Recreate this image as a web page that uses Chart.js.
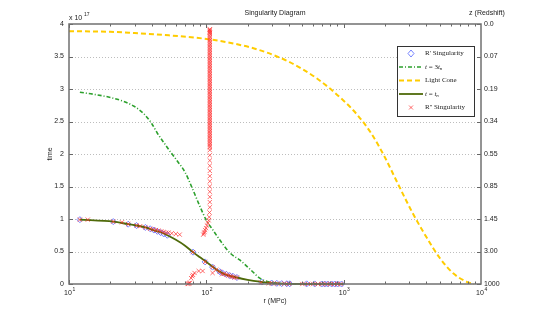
<!DOCTYPE html>
<html>
<head>
<meta charset="utf-8">
<style>
  html, body { margin: 0; padding: 0; background: #fff; }
  #wrap { width: 533px; height: 320px; }
</style>
</head>
<body>
<div id="wrap"><canvas id="singularityChart" width="533" height="320"></canvas></div>
<script src="https://cdn.jsdelivr.net/npm/chart.js"></script>
<script>
// r in MPc, t in units of 1e17
const rTn = [12, 21, 27, 31, 36, 41, 46, 52, 60, 70, 80, 90, 100, 112, 125, 140, 166, 200, 245, 300, 400, 600, 1000];
const tTn = [0.99, 0.96, 0.92, 0.90, 0.87, 0.83, 0.80, 0.75, 0.68, 0.59, 0.49, 0.41, 0.34, 0.26, 0.19, 0.14, 0.10, 0.065, 0.035, 0.012, 0.003, 0, 0];

const r3Tn = [12, 15, 20, 25, 30, 35, 40, 44, 50, 54, 62, 70, 78, 90, 100, 110, 125, 150, 175, 210, 245, 290, 350, 450];
const t3Tn = [2.95, 2.92, 2.87, 2.81, 2.73, 2.62, 2.47, 2.32, 2.15, 2.05, 1.88, 1.72, 1.50, 1.19, 0.98, 0.85, 0.68, 0.47, 0.37, 0.22, 0.09, 0.03, 0.005, 0];

const rCone = [10, 20, 30, 50, 100, 158, 251, 398, 631, 1000, 1259, 1585, 1995, 2512, 3162, 3981, 5012, 6310, 7943, 8900];
const tCone = [3.89, 3.88, 3.86, 3.83, 3.77, 3.70, 3.59, 3.42, 3.17, 2.82, 2.60, 2.32, 1.95, 1.52, 1.10, 0.73, 0.40, 0.16, 0.03, 0];

const rPrime = [12, 21, 27, 31, 36, 39, 41.5, 44, 46.5, 49, 52,
                80, 98, 111, 125, 131, 140, 148, 156, 167,
                253, 299, 326, 354, 385, 405, 538, 615, 692, 728, 765, 818, 861, 904, 966];
const tPrime = [0.99, 0.96, 0.92, 0.90, 0.87, 0.85, 0.83, 0.81, 0.79, 0.77, 0.75,
                0.49, 0.34, 0.26, 0.19, 0.17, 0.15, 0.13, 0.12, 0.10,
                0.03, 0.015, 0.01, 0.006, 0.004, 0.003, 0.002, 0.001, 0, 0, 0, 0, 0, 0, 0];

// R'' singularity, in groups
const rDdCurve = [12, 13.7, 21, 24.3, 27, 31, 33, 36, 39, 41, 43, 45, 47, 49, 51, 53, 56, 60, 64];
const tDdCurve = [0.99, 0.99, 0.96, 0.95, 0.92, 0.90, 0.89, 0.87, 0.85, 0.84, 0.83, 0.82, 0.81, 0.80, 0.79, 0.79, 0.78, 0.77, 0.76];
const rDdLow = [73, 74, 75, 76, 77.5, 79, 80, 82, 88, 94, 80, 98, 111, 111, 118, 125, 130, 135, 140, 145, 150, 155, 160, 167];
const tDdLow = [0, 0.005, 0.01, 0.02, 0.09, 0.12, 0.14, 0.17, 0.20, 0.20, 0.49, 0.34, 0.26, 0.17, 0.22, 0.19, 0.15, 0.16, 0.14, 0.13, 0.12, 0.11, 0.10, 0.10];
const rDdFlat = [250, 285, 300, 330, 370, 400, 500, 550, 600, 650, 700, 750, 800, 850, 900, 950];
const tDdFlat = [0.02, 0.01, 0.01, 0.005, 0.005, 0.003, 0, 0, 0, 0, 0, 0, 0, 0, 0, 0];
const rDdBend = [95, 96, 97, 98, 99.5, 101, 102.5, 104, 105, 105.5, 106, 106, 106, 106, 106, 106, 106, 106, 106, 106, 106, 106];
const tDdBend = [0.76, 0.78, 0.80, 0.83, 0.86, 0.90, 0.94, 0.98, 1.03, 1.10, 1.18, 1.26, 1.34, 1.42, 1.50, 1.58, 1.66, 1.74, 1.82, 1.90, 1.98, 2.06];
const tDdColumn = [2.100, 2.125, 2.150, 2.175, 2.200, 2.225, 2.250, 2.275, 2.300, 2.325, 2.350, 2.375, 2.400, 2.425, 2.450, 2.475,
                   2.500, 2.525, 2.550, 2.575, 2.600, 2.625, 2.650, 2.675, 2.700, 2.725, 2.750, 2.775, 2.800, 2.825, 2.850, 2.875,
                   2.900, 2.925, 2.950, 2.975, 3.000, 3.025, 3.050, 3.075, 3.100, 3.125, 3.150, 3.175, 3.200, 3.225, 3.250, 3.275,
                   3.300, 3.325, 3.350, 3.375, 3.400, 3.425, 3.450, 3.475, 3.500, 3.525, 3.550, 3.575, 3.600, 3.625, 3.650, 3.675,
                   3.700, 3.725, 3.750, 3.775, 3.800, 3.825, 3.850, 3.865, 3.880, 3.895, 3.910, 3.920];
const rDdColumn = 106;

const yTicks = [0, 0.5, 1, 1.5, 2, 2.5, 3, 3.5, 4];
const zLabels = ['1000', '3.00', '1.45', '0.85', '0.55', '0.34', '0.19', '0.07', '0.0'];
const xDecades = [1, 2, 3, 4];

function pts(xs, ys) {
    return xs.map((x, i) => ({x: x, y: ys[i]}));
}

const rppPoints = pts(rDdCurve, tDdCurve)
    .concat(pts(rDdLow, tDdLow))
    .concat(pts(rDdFlat, tDdFlat))
    .concat(pts(rDdBend, tDdBend))
    .concat(tDdColumn.map(t => ({x: rDdColumn, y: t})));

const SANS = '"Liberation Sans", Arial, sans-serif';
const SERIF = '"Liberation Serif", "Times New Roman", serif';

const colPrime = 'rgba(95,110,255,0.85)';
const col3Tn = '#2ca02c';
const colCone = '#ffcc00';
const colTn = '#4f6a0a';
const colDd = 'rgba(255,45,45,0.7)';

const gridPlugin = {
    id: 'dottedGrid',
    beforeDatasetsDraw(chart) {
        const ctx = chart.ctx;
        const a = chart.chartArea;
        const ys = chart.scales.y;
        ctx.save();
        ctx.strokeStyle = '#bdbdbd';
        ctx.lineWidth = 1;
        ctx.setLineDash([1, 2]);
        ctx.beginPath();
        yTicks.forEach(v => {
            if (v === 0 || v === 4) return;
            const py = Math.round(ys.getPixelForValue(v)) + 0.5;
            ctx.moveTo(a.left, py); ctx.lineTo(a.right, py);
        });
        ctx.stroke();
        ctx.restore();
    }
};

const framePlugin = {
    id: 'frame',
    afterDraw(chart) {
        const ctx = chart.ctx;
        const a = chart.chartArea;
        const xs = chart.scales.x;
        const ys = chart.scales.y;
        ctx.save();

        // inward tick marks
        ctx.strokeStyle = '#666';
        ctx.lineWidth = 1;
        ctx.beginPath();
        [10, 100, 1000].forEach(dec => {
            for (let m = 1; m <= 9; m++) {
                const px = Math.round(xs.getPixelForValue(m * dec)) + 0.5;
                const len = m === 1 ? 4 : 2.5;
                ctx.moveTo(px, a.bottom); ctx.lineTo(px, a.bottom - len);
                ctx.moveTo(px, a.top); ctx.lineTo(px, a.top + len);
            }
        });
        yTicks.forEach(v => {
            const py = Math.round(ys.getPixelForValue(v)) + 0.5;
            ctx.moveTo(a.left, py); ctx.lineTo(a.left + 4, py);
            ctx.moveTo(a.right, py); ctx.lineTo(a.right - 4, py);
        });
        ctx.stroke();

        // box
        ctx.strokeStyle = '#707070';
        ctx.lineWidth = 1.5;
        ctx.strokeRect(a.left, a.top, a.right - a.left, a.bottom - a.top);

        // texts
        ctx.fillStyle = '#222';
        ctx.textBaseline = 'middle';
        ctx.font = '7px ' + SANS;
        ctx.textAlign = 'center';
        ctx.fillText('Singularity Diagram', (a.left + a.right) / 2, 13);
        ctx.fillText('z (Redshift)', 487, 13);
        ctx.fillText('r (MPc)', (a.left + a.right) / 2, 301);
        ctx.textAlign = 'left';
        ctx.fillText('x 10', a.left, 18);
        ctx.font = '5px ' + SANS;
        ctx.fillText('17', a.left + 15, 14.5);

        // x tick labels 10^n
        xDecades.forEach(n => {
            const px = xs.getPixelForValue(Math.pow(10, n));
            ctx.font = '7px ' + SANS;
            ctx.textAlign = 'left';
            const w = ctx.measureText('10').width;
            ctx.fillText('10', px - w / 2 - 1, 293);
            ctx.font = '5px ' + SANS;
            ctx.fillText(String(n), px + w / 2 - 0.5, 290);
        });

        ctx.font = '7px ' + SANS;
        ctx.save();
        ctx.translate(50, (a.top + a.bottom) / 2);
        ctx.rotate(-Math.PI / 2);
        ctx.textAlign = 'center';
        ctx.fillText('time', 0, 0);
        ctx.restore();

        // legend
        const lx = 397, ly = 46, lw = 77, lh = 70;
        ctx.fillStyle = '#fff';
        ctx.fillRect(lx, ly, lw, lh);
        ctx.strokeStyle = '#333';
        ctx.lineWidth = 1;
        ctx.strokeRect(lx + 0.5, ly + 0.5, lw, lh);
        const rows = [53.5, 67, 80.5, 94, 107.5];
        const x0 = 399, x1 = 423, tx = 425;
        // R' marker
        ctx.strokeStyle = colPrime;
        ctx.beginPath();
        ctx.moveTo(411, rows[0] - 3.5); ctx.lineTo(414, rows[0]);
        ctx.lineTo(411, rows[0] + 3.5); ctx.lineTo(408, rows[0]); ctx.closePath();
        ctx.stroke();
        // 3t_n
        ctx.strokeStyle = col3Tn; ctx.lineWidth = 1.6;
        ctx.setLineDash([4, 2, 1, 2]);
        ctx.beginPath(); ctx.moveTo(x0, rows[1]); ctx.lineTo(x1, rows[1]); ctx.stroke();
        // light cone
        ctx.strokeStyle = colCone; ctx.lineWidth = 2;
        ctx.setLineDash([5, 3]);
        ctx.beginPath(); ctx.moveTo(x0, rows[2]); ctx.lineTo(x1, rows[2]); ctx.stroke();
        // t_n
        ctx.setLineDash([]);
        ctx.strokeStyle = colTn; ctx.lineWidth = 1.8;
        ctx.beginPath(); ctx.moveTo(x0, rows[3]); ctx.lineTo(x1, rows[3]); ctx.stroke();
        // R'' marker
        ctx.strokeStyle = colDd; ctx.lineWidth = 1;
        ctx.beginPath();
        ctx.moveTo(409, rows[4] - 2); ctx.lineTo(413, rows[4] + 2);
        ctx.moveTo(413, rows[4] - 2); ctx.lineTo(409, rows[4] + 2);
        ctx.stroke();

        ctx.fillStyle = '#222';
        ctx.textAlign = 'left';
        ctx.font = '7px ' + SERIF;
        ctx.fillText("R' Singularity", tx, rows[0]);
        ctx.fillText('Light Cone', tx, rows[2]);
        ctx.fillText("R'' Singularity", tx, rows[4]);
        // t = 3t_n  and  t = t_n
        const italic = 'italic 7px ' + SERIF;
        const plain = '7px ' + SERIF;
        const sub = 'italic 5px ' + SERIF;
        function eqn(y, coef) {
            let x = tx;
            ctx.font = italic; ctx.fillText('t', x, y); x += ctx.measureText('t ').width;
            ctx.font = plain; ctx.fillText('= ' + coef, x, y); x += ctx.measureText('= ' + coef).width;
            ctx.font = italic; ctx.fillText('t', x, y); x += ctx.measureText('t').width;
            ctx.font = sub; ctx.fillText('n', x, y + 1.5);
        }
        eqn(rows[1], '3');
        eqn(rows[3], '');
        ctx.restore();
    }
};

new Chart(document.getElementById('singularityChart').getContext('2d'), {
    type: 'scatter',
    data: {
        datasets: [
            {
                label: "R'' Singularity",
                data: rppPoints,
                pointStyle: 'crossRot',
                pointRadius: 3,
                borderColor: colDd,
                borderWidth: 1,
                showLine: false,
                clip: false,
                order: 1
            },
            {
                label: 't = t_n',
                data: pts(rTn, tTn),
                showLine: true,
                borderColor: colTn,
                borderWidth: 1.8,
                pointRadius: 0,
                tension: 0.3,
                clip: false,
                order: 2
            },
            {
                label: 'Light Cone',
                data: pts(rCone, tCone),
                showLine: true,
                borderColor: colCone,
                borderWidth: 2,
                borderDash: [5, 3],
                pointRadius: 0,
                cubicInterpolationMode: 'monotone',
                clip: false,
                order: 3
            },
            {
                label: 't = 3t_n',
                data: pts(r3Tn, t3Tn),
                showLine: true,
                borderColor: col3Tn,
                borderWidth: 1.6,
                borderDash: [4, 2, 1, 2],
                pointRadius: 0,
                cubicInterpolationMode: 'monotone',
                clip: false,
                order: 4
            },
            {
                label: "R' Singularity",
                data: pts(rPrime, tPrime),
                pointStyle: 'rectRot',
                pointRadius: 3,
                borderColor: colPrime,
                backgroundColor: 'rgba(0,0,0,0)',
                borderWidth: 1,
                showLine: false,
                clip: false,
                order: 5
            }
        ]
    },
    options: {
        responsive: false,
        animation: false,
        layout: { padding: { top: 24, left: 0, right: 0, bottom: 0 } },
        plugins: {
            legend: { display: false },
            tooltip: { enabled: false },
            title: { display: false }
        },
        scales: {
            x: {
                type: 'logarithmic',
                min: 10,
                max: 10000,
                afterFit(scale) { scale.height = 36; },
                grid: { display: false, drawTicks: false },
                border: { display: false },
                ticks: { display: false }
            },
            y: {
                position: 'left',
                min: 0,
                max: 4,
                afterFit(scale) { scale.width = 69; },
                afterBuildTicks(scale) { scale.ticks = yTicks.map(v => ({value: v})); },
                grid: { display: false, drawTicks: false },
                border: { display: false },
                ticks: {
                    padding: 5,
                    color: '#222',
                    font: { size: 7, family: SANS },
                    callback(v) { return String(v); }
                }
            },
            z: {
                position: 'right',
                min: 0,
                max: 4,
                afterFit(scale) { scale.width = 52; },
                afterBuildTicks(scale) { scale.ticks = yTicks.map(v => ({value: v})); },
                grid: { drawOnChartArea: false, drawTicks: false },
                border: { display: false },
                ticks: {
                    padding: 3,
                    color: '#222',
                    font: { size: 7, family: SANS },
                    callback(v) { return zLabels[yTicks.indexOf(v)]; }
                }
            }
        }
    },
    plugins: [gridPlugin, framePlugin]
});
</script>
</body>
</html>
